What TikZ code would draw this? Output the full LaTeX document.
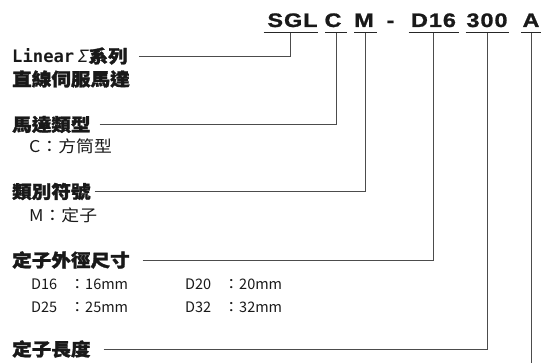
\documentclass[tikz,border=0pt]{standalone}
\usepackage{fontspec}
\newfontfamily\codefont{Liberation Sans}[FakeStretch=1.2, BoldFeatures={FakeBold=1.2}]
\newfontfamily\cjk{Noto Sans CJK TC}[FakeStretch=1.1, BoldFeatures={FakeBold=1.6}]
\newfontfamily\cjkn{Noto Sans CJK TC}
\newfontfamily\monof{DejaVu Sans Mono}
\newcommand\ks{\kern1pt}
\tikzset{
  code/.style={font=\codefont\bfseries\fontsize{19.5}{20}\selectfont, inner sep=0pt, anchor=base, text=black!90},
  lab/.style={font=\cjk\bfseries\fontsize{17.8}{19}\selectfont, inner sep=0pt, anchor=west, text=black!90},
  sub/.style={font=\cjk\fontsize{16.2}{17}\selectfont, inner sep=0pt, anchor=west, text=black!90},
  dim/.style={font=\cjkn\fontsize{14.5}{16}\selectfont, inner sep=0pt, anchor=west, text=black!90},
  conn/.style={draw=black!70, line width=0.9pt},
  uline/.style={draw=black!85, line width=1pt}
}
\begin{document}
\begin{tikzpicture}[x=1pt,y=-1pt]
\useasboundingbox (0,0) rectangle (545,363);
% code
\node[code] (sgl) at (292.5,27) {S\ks G\ks L};
\node[code] (c) at (333,27) {C};
\node[code] (m) at (364,27) {M};
\node[code] (dash) at (390.5,27) {-};
\node[code] (d16) at (433.5,27) {D\ks 1\ks 6};
\node[code] (n300) at (487,27) {3\ks 0\ks 0};
\node[code] (a) at (531,27) {A};
% underline mid points
\coordinate (sglu) at ([xshift=-2pt,yshift=-6pt]sgl.base);
\coordinate (cu) at ([xshift=3pt,yshift=-6pt]c.base);
\coordinate (mu) at ([xshift=1.5pt,yshift=-6pt]m.base);
\coordinate (d16u) at ([yshift=-6pt]d16.base);
\coordinate (n300u) at ([yshift=-6pt]n300.base);
\coordinate (au) at ([yshift=-6pt]a.base);
\draw[uline] ([xshift=-27pt]sglu) -- ([xshift=27pt]sglu);
\draw[uline] ([xshift=-11pt]cu) -- ([xshift=11pt]cu);
\draw[uline] ([xshift=-11.5pt]mu) -- ([xshift=11.5pt]mu);
\draw[uline] ([xshift=-25pt]d16u) -- ([xshift=25pt]d16u);
\draw[uline] ([xshift=-21.5pt]n300u) -- ([xshift=21.5pt]n300u);
\draw[uline] ([xshift=-10pt]au) -- ([xshift=10pt]au);
% labels
\node[lab] (lin1) at (12,56) {{\monof\fontsize{17.2}{18}\selectfont Linear}\kern4pt{\monof\mdseries\itshape\fontsize{17}{18}\selectfont Σ}系列};
\node[lab] (lin2) at (12,79) {直線伺服馬達};
\node[lab] (typ) at (12,124.5) {馬達類型};
\node[sub] (typc) at (29,146) {C：方筒型};
\node[lab] (cat) at (12,191.5) {類別符號};
\node[sub] (catm) at (29,215.5) {M：定子};
\node[lab] (dia) at (12,260) {定子外徑尺寸};
\node[dim] (r1a) at (31,284) {D16\kern12pt{\cjk ：}16mm};
\node[dim] (r1b) at (185,284) {D20\kern12pt{\cjk ：}20mm};
\node[dim] (r2a) at (31,307.5) {D25\kern12pt{\cjk ：}25mm};
\node[dim] (r2b) at (185,307.5) {D32\kern12pt{\cjk ：}32mm};
\node[lab] (len) at (12,349) {定子長度};
\coordinate (aend) at (531,363);
% connectors
\draw[conn, shorten <=11pt] (lin1.east) -| (sglu);
\draw[conn, shorten <=9pt] (typ.east) -| (cu);
\draw[conn, shorten <=4pt] (cat.east) -| (mu);
\draw[conn, shorten <=12.7pt] (dia.east) -| (d16u);
\draw[conn, shorten <=13pt] (len.east) -| (n300u);
\draw[conn] (au) -- (aend);
\end{tikzpicture}
\end{document}
